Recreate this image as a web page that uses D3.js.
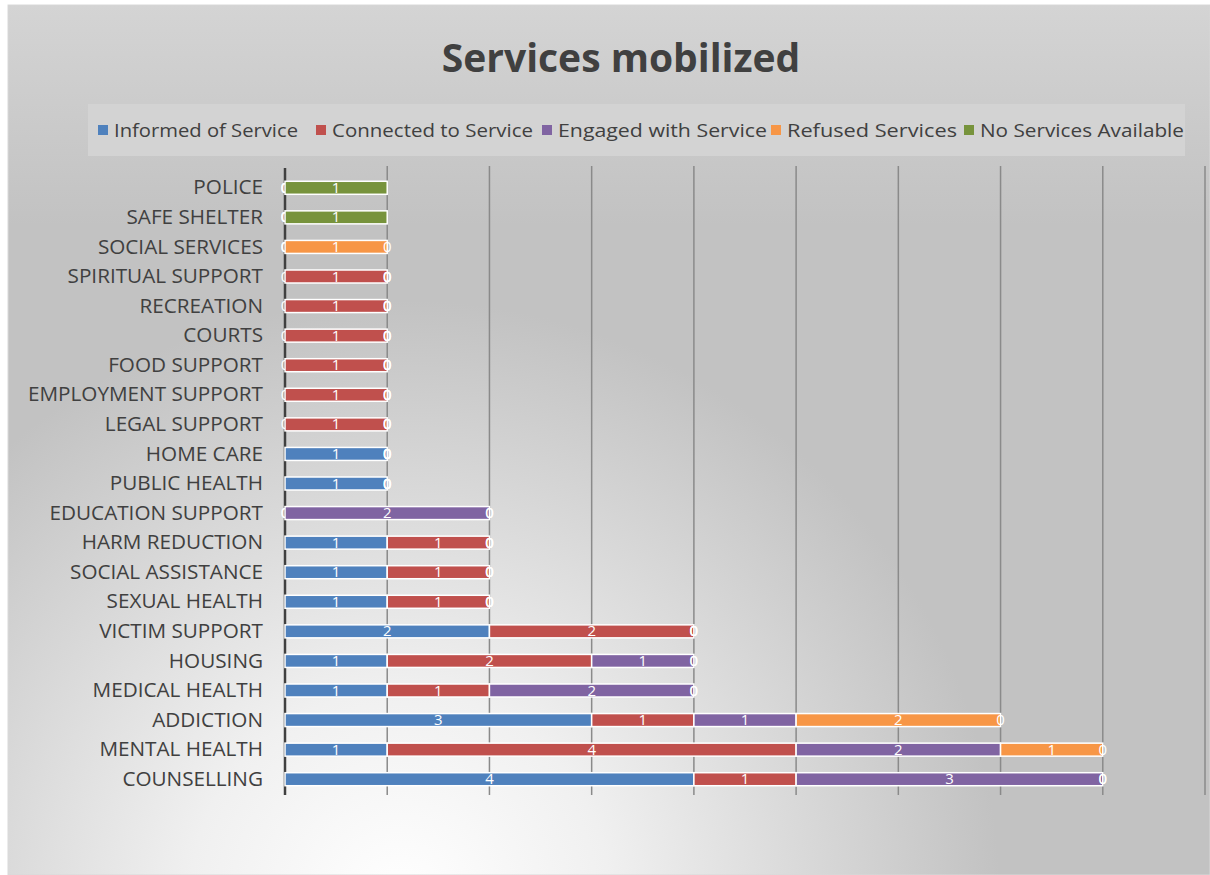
<!DOCTYPE html>
<html>
<head>
<meta charset="utf-8">
<script src="https://cdn.jsdelivr.net/npm/d3@7"></script>
<style>
  body { margin: 0; background: #fff; }
  svg { display: block; }
</style>
</head>
<body>
<div id="chart"></div>
<script>
// categories, top to bottom as drawn
var categories = ["POLICE", "SAFE SHELTER", "SOCIAL SERVICES", "SPIRITUAL SUPPORT", "RECREATION",
  "COURTS", "FOOD SUPPORT", "EMPLOYMENT SUPPORT", "LEGAL SUPPORT", "HOME CARE", "PUBLIC HEALTH",
  "EDUCATION SUPPORT", "HARM REDUCTION", "SOCIAL ASSISTANCE", "SEXUAL HEALTH", "VICTIM SUPPORT",
  "HOUSING", "MEDICAL HEALTH", "ADDICTION", "MENTAL HEALTH", "COUNSELLING"]

var seriesNames = ["Informed of Service", "Connected to Service", "Engaged with Service",
  "Refused Services", "No Services Available"]

// one value per category, same order as categories
var informed   = [0, 0, 0, 0, 0, 0, 0, 0, 0, 1, 1, 0, 1, 1, 1, 2, 1, 1, 3, 1, 4]
var connected  = [0, 0, 0, 1, 1, 1, 1, 1, 1, 0, 0, 0, 1, 1, 1, 2, 2, 1, 1, 4, 1]
var engaged    = [0, 0, 0, 0, 0, 0, 0, 0, 0, 0, 0, 2, 0, 0, 0, 0, 1, 2, 1, 2, 3]
var refused    = [0, 0, 1, 0, 0, 0, 0, 0, 0, 0, 0, 0, 0, 0, 0, 0, 0, 0, 2, 1, 0]
var noServices = [1, 1, 0, 0, 0, 0, 0, 0, 0, 0, 0, 0, 0, 0, 0, 0, 0, 0, 0, 0, 0]

var xTicks = [0, 1, 2, 3, 4, 5, 6, 7, 8, 9]

var colors = ["#4f81bd", "#c0504d", "#8064a2", "#f79646", "#77933c"]

var width = 1210
var height = 875

var svg = d3.select("#chart")
  .append("svg")
    .attr("width", width)
    .attr("height", height)

// background: grey with a pale glow toward the bottom left
var defs = svg.append("defs")
var grad = defs.append("radialGradient")
    .attr("id", "bg")
    .attr("gradientUnits", "userSpaceOnUse")
    .attr("cx", 400).attr("cy", 900).attr("r", 600)
grad.append("stop").attr("offset", "0%").attr("stop-color", "#ffffff")
grad.append("stop").attr("offset", "35%").attr("stop-color", "#f0f0f0")
grad.append("stop").attr("offset", "100%").attr("stop-color", "#c2c2c2")

var topGrad = defs.append("linearGradient")
    .attr("id", "topfade")
    .attr("x1", 0).attr("y1", 0).attr("x2", 0).attr("y2", 1)
topGrad.append("stop").attr("offset", "0%").attr("stop-color", "#d6d6d6").attr("stop-opacity", 0.9)
topGrad.append("stop").attr("offset", "100%").attr("stop-color", "#d6d6d6").attr("stop-opacity", 0)

svg.append("rect")
    .attr("x", 8).attr("y", 5)
    .attr("width", width - 8).attr("height", height - 5)
    .attr("fill", "url(#bg)")
    .attr("stroke", "#d9d9d9")
svg.append("rect")
    .attr("x", 8).attr("y", 5)
    .attr("width", width - 8).attr("height", 220)
    .attr("fill", "url(#topfade)")

// title
svg.append("text")
    .attr("x", 621)
    .attr("y", 72)
    .attr("text-anchor", "middle")
    .style("font-family", "'Open Sans', sans-serif")
    .style("font-weight", "bold")
    .style("font-size", "39px")
    .style("fill", "#404040")
    .text("Services mobilized")

// legend
svg.append("rect")
    .attr("x", 88).attr("y", 104)
    .attr("width", 1097).attr("height", 52)
    .attr("fill", "#d3d3d3")

var legendX = [98, 316, 542, 771, 964]
var legendW = [184, 201, 209, 170, 204]
var legend = svg.selectAll(".legend")
  .data(seriesNames)
  .enter()
  .append("g")
    .attr("transform", function(d, i) { return "translate(" + legendX[i] + ",130)" })
legend.append("rect")
    .attr("x", 0).attr("y", -5)
    .attr("width", 10).attr("height", 10)
    .attr("fill", function(d, i) { return colors[i] })
legend.append("text")
    .attr("x", 16)
    .attr("y", 7)
    .attr("textLength", function(d, i) { return legendW[i] })
    .attr("lengthAdjust", "spacingAndGlyphs")
    .style("font-family", "'Open Sans', sans-serif")
    .style("font-size", "19px")
    .style("fill", "#404040")
    .text(function(d) { return d })

// scales
var x = d3.scaleLinear()
    .domain([0, 9])
    .range([285, 1205])

var y = d3.scaleBand()
    .domain(categories)
    .range([173, 794])
    .paddingInner(0.56)
    .paddingOuter(0.28)

// gridlines
svg.append("g")
  .selectAll("line")
  .data(xTicks.slice(1))
  .enter()
  .append("line")
    .attr("x1", function(d) { return x(d) })
    .attr("x2", function(d) { return x(d) })
    .attr("y1", 166)
    .attr("y2", 795)
    .attr("stroke", "#8a8a8a")
    .attr("stroke-width", 1.5)

// category axis
var yAxis = svg.append("g")
    .attr("transform", "translate(" + x(0) + ",0)")
    .call(d3.axisLeft(y).tickSize(0).tickPadding(22))
yAxis.select(".domain")
    .attr("stroke", "#404040")
    .attr("stroke-width", 2.5)
    .attr("d", "M0,168V795")
yAxis.selectAll("text")
    .style("font-family", "'Open Sans', sans-serif")
    .style("font-size", "20.7px")
    .style("fill", "#404040")

// stacked data
var table = categories.map(function(c, i) {
  return { cat: c, s0: informed[i], s1: connected[i], s2: engaged[i], s3: refused[i], s4: noServices[i] }
})
var stack = d3.stack().keys(["s0", "s1", "s2", "s3", "s4"])
var series = stack(table)

var groups = svg.selectAll(".series")
  .data(series)
  .enter()
  .append("g")
    .attr("fill", function(d, i) { return colors[i] })

groups.selectAll("rect")
  .data(function(d) { return d.filter(function(p) { return p[1] - p[0] > 0 }) })
  .enter()
  .append("rect")
    .attr("x", function(d) { return x(d[0]) })
    .attr("y", function(d) { return y(d.data.cat) })
    .attr("width", function(d) { return x(d[1]) - x(d[0]) })
    .attr("height", y.bandwidth())
    .attr("stroke", "#ffffff")
    .attr("stroke-width", 1.5)

// value labels, zeros included
groups.selectAll("text")
  .data(function(d) { return d })
  .enter()
  .append("text")
    .attr("x", function(d) { return (x(d[0]) + x(d[1])) / 2 })
    .attr("y", function(d) { return y(d.data.cat) + y.bandwidth() / 2 + 5 })
    .attr("text-anchor", "middle")
    .style("font-family", "'Open Sans', sans-serif")
    .style("font-size", "15px")
    .style("fill", "#ffffff")
    .text(function(d) { return d[1] - d[0] })
</script>
</body>
</html>
